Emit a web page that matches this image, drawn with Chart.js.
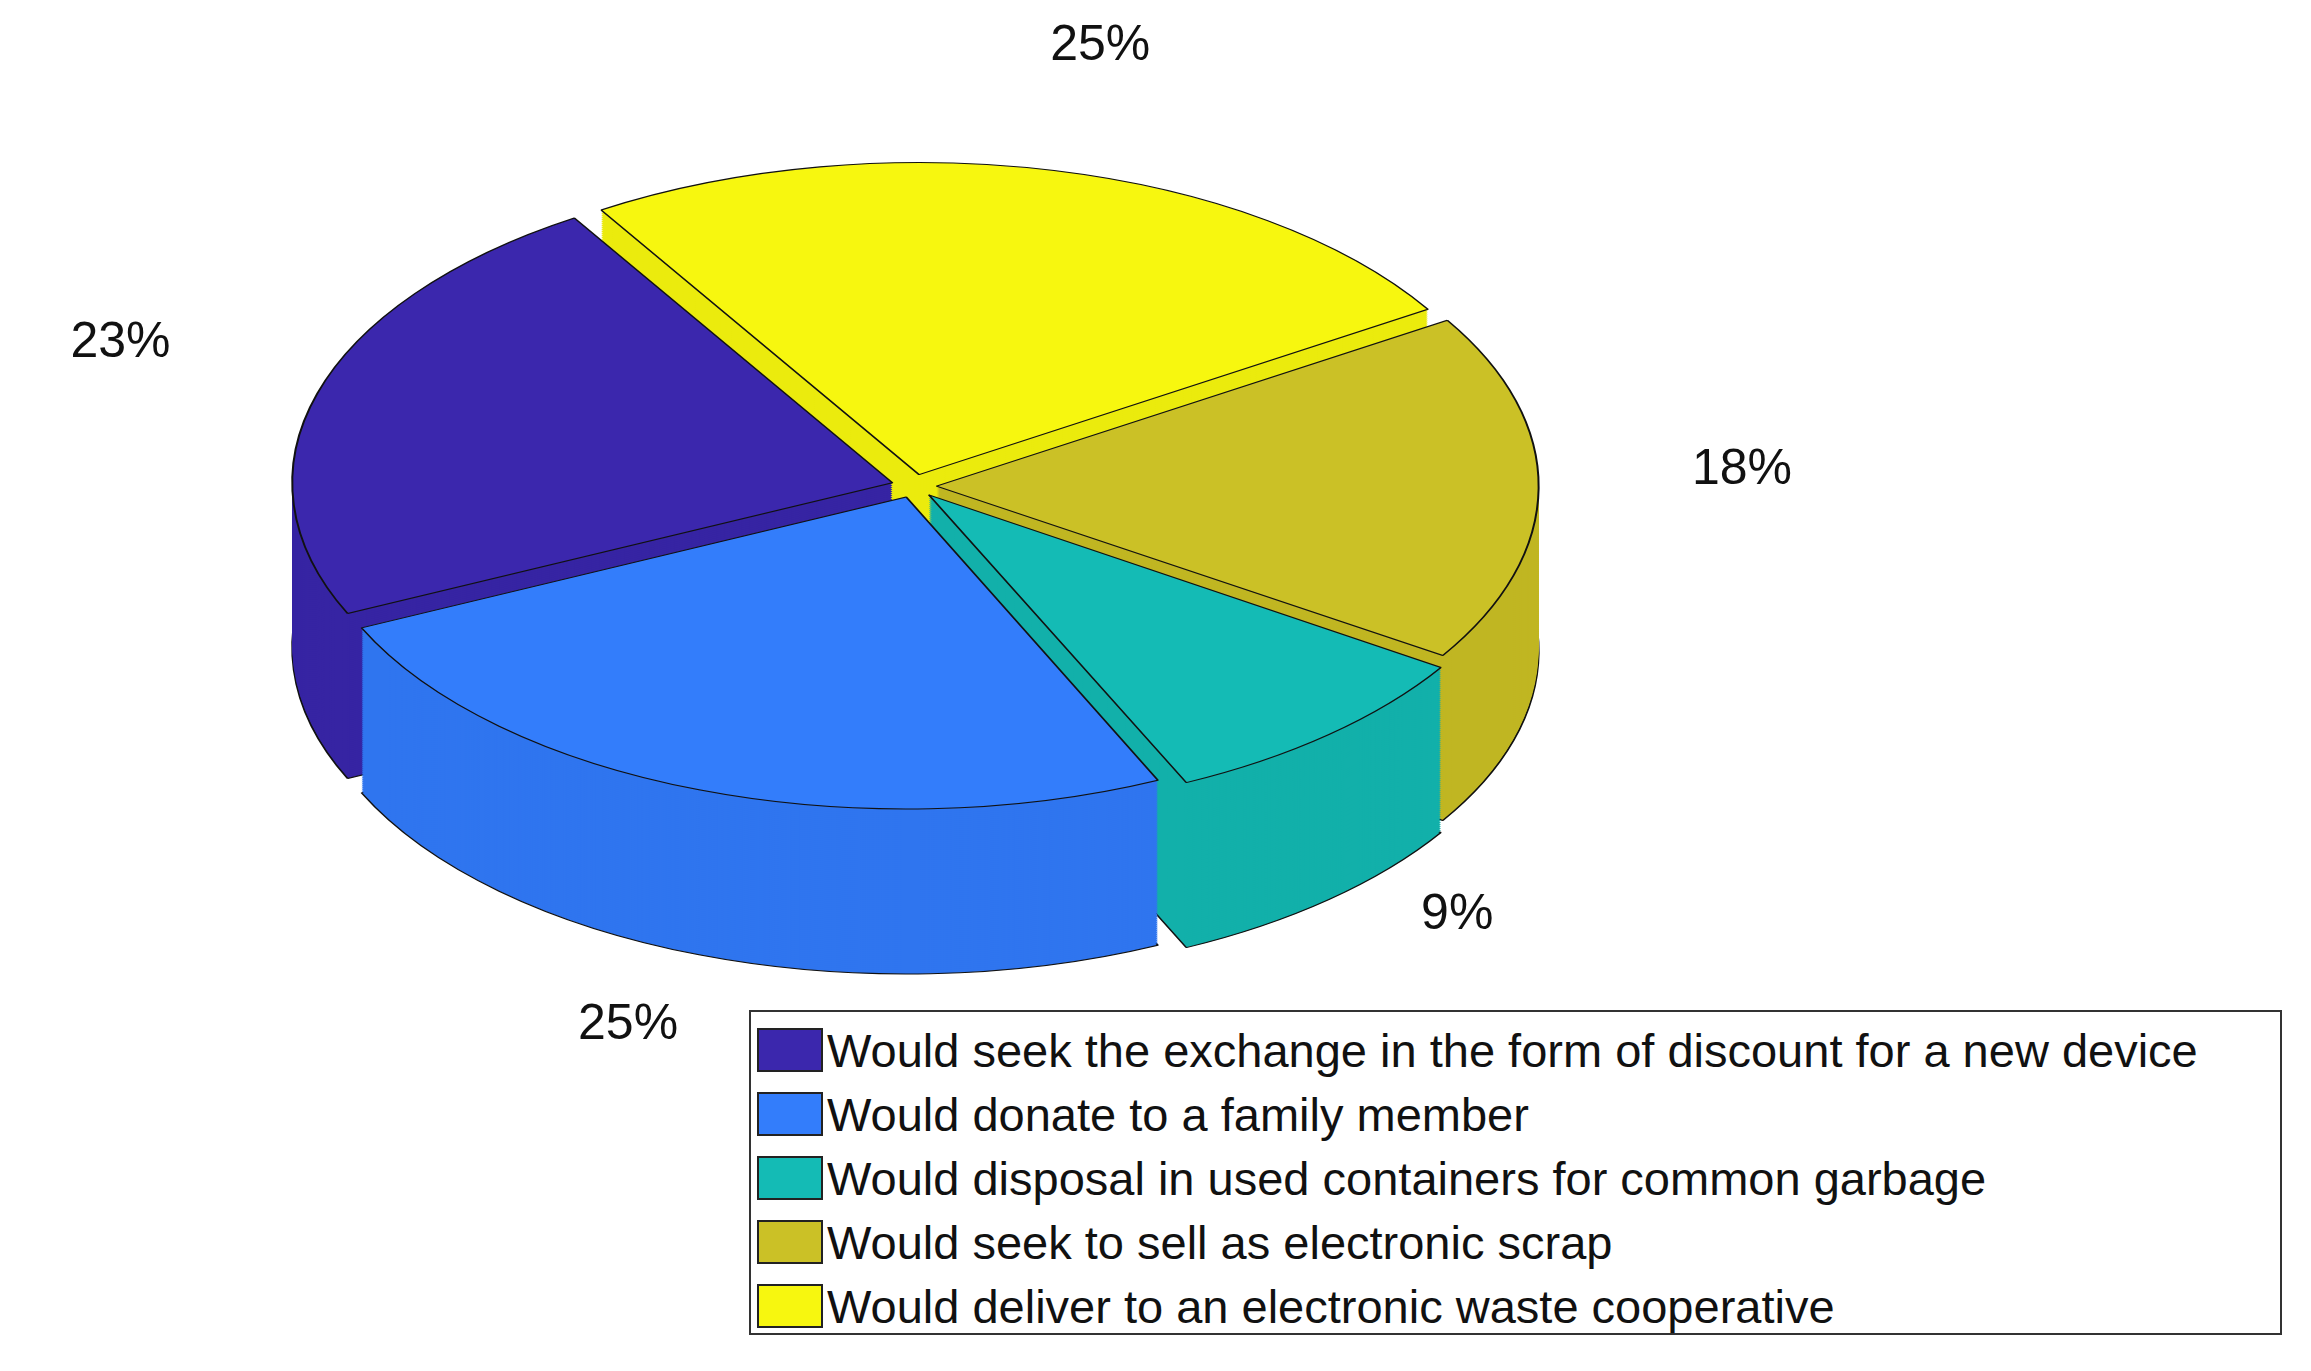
<!DOCTYPE html>
<html><head><meta charset="utf-8">
<script src="https://cdn.jsdelivr.net/npm/chart.js@4/dist/chart.umd.min.js"></script>
<style>
html,body{margin:0;padding:0;background:#fff;}
#wrap{position:absolute;left:0;top:0;width:2311px;height:1371px;}
#legend{position:absolute;left:749px;top:1010px;width:1533px;height:325px;border:2px solid #333;background:#fff;box-sizing:border-box;font-family:"Liberation Sans",Arial,sans-serif;font-size:47px;color:#111;padding-top:6px;white-space:nowrap;}
.row{display:flex;align-items:center;height:64px;}
.sw{width:66px;height:44px;border:2px solid #222;box-sizing:border-box;margin:0 4px 0 6px;flex:none;}
</style></head><body>
<div id="wrap"><canvas id="c" width="2311" height="1371"></canvas></div>
<div id="legend"></div>
<script>
const categories = ["Would seek the exchange in the form of discount for a new device","Would donate to a family member","Would disposal in used containers for common garbage","Would seek to sell as electronic scrap","Would deliver to an electronic waste cooperative"];
const values = [23,25,9,18,25];
const labelsPct = ["23%","25%","9%","18%","25%"];
const colors = ["#3b27ad","#337dfb","#14bbb5","#cbc126","#f7f70f"];
const sideColors = ["#3624a3","#2f75ef","#12b0aa","#c0b622","#ebeb0d"];
const order = [4,3,2,1,0];
const SQ = 0.52, DEPTH = 165;

const lg = document.getElementById('legend');
categories.forEach((c,i)=>{const r=document.createElement('div');r.className='row';r.innerHTML='<div class="sw" style="background:'+colors[i]+'"></div><span>'+c+'</span>';lg.appendChild(r);});

const pie3d = {
  id:'pie3d',
  beforeDatasetsDraw(chart){
    const meta = chart.getDatasetMeta(0);
    const ctx = chart.ctx;
    const el0 = meta.data[0];
    const cx = el0.x, cy = el0.y;
    ctx.save();
    ctx.translate(cx,cy); ctx.scale(1,SQ); ctx.translate(-cx,-cy);
    chart.$cx=cx; chart.$cy=cy;
    for(let d=DEPTH; d>0; d-=2){
      ctx.save(); ctx.translate(0,d/SQ);
      meta.data.forEach((el,i)=>{
        const o=el.options, bg=o.backgroundColor, bw=o.borderWidth, bc=o.borderColor;
        o.backgroundColor = sideColors[order[i]];
        o.borderWidth = (d>=DEPTH-1)?2:0; o.borderColor='#111';
        el.draw(ctx);
        o.backgroundColor=bg; o.borderWidth=bw; o.borderColor=bc;
      });
      ctx.restore();
    }
  },
  afterDatasetsDraw(chart){
    const ctx=chart.ctx; ctx.restore();
    const meta=chart.getDatasetMeta(0);
    ctx.save();
    ctx.font='50px "Liberation Sans", Arial, sans-serif';
    ctx.fillStyle='#111'; ctx.textAlign='center'; ctx.textBaseline='middle';
    meta.data.forEach((el,i)=>{
      const a=(el.startAngle+el.endAngle)/2;
      const r=(el.outerRadius+90)*1.2;
      const s=Math.sin(a);
      const x=chart.$cx+Math.cos(a)*r;
      const y=chart.$cy+s*r*SQ+(s>0?DEPTH*s:0)-20;
      ctx.fillText(labelsPct[order[i]],x,y);
    });
    ctx.restore();
  }
};

new Chart(document.getElementById('c'),{
  type:'pie',
  data:{labels:order.map(i=>categories[i]),datasets:[{data:order.map(i=>values[i]),backgroundColor:order.map(i=>colors[i]),borderColor:'#111',borderWidth:2,offset:90}]},
  options:{responsive:false,animation:false,radius:600,rotation:-32,
    layout:{padding:{left:0,top:0,right:483,bottom:399}},
    plugins:{legend:{display:false},tooltip:{enabled:false}}},
  plugins:[pie3d]
});
</script></body></html>
